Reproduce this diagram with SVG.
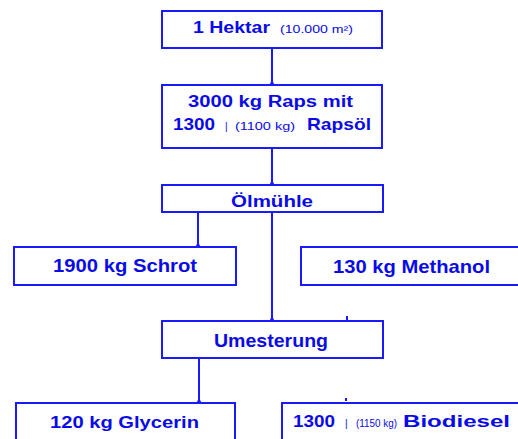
<svg xmlns="http://www.w3.org/2000/svg" width="518" height="439" viewBox="0 0 518 439">
<style>
.box{fill:#fff;stroke:#1a1aff;stroke-width:2}
.ln{stroke:#1a1aff;stroke-width:2;fill:none}
.t{font-family:"Liberation Sans",Arial,sans-serif;font-weight:bold;fill:#0a0ae8}
.s{font-family:"Liberation Sans",Arial,sans-serif;font-weight:normal;fill:#0a0ae8;font-size:10px}
</style>
<defs>
<marker id="dot" viewBox="0 0 4 4" refX="2" refY="2" markerWidth="4" markerHeight="4" markerUnits="userSpaceOnUse">
<circle cx="2" cy="2" r="2" fill="#1a1aff"/>
</marker>
</defs>
<rect width="518" height="439" fill="#fff"/>
<g id="connectors">
<line class="ln" x1="272" y1="48" x2="272" y2="84" marker-end="url(#dot)"/>
<line class="ln" x1="272" y1="148" x2="272" y2="184" marker-end="url(#dot)"/>
<line class="ln" x1="198" y1="212" x2="198" y2="246" marker-end="url(#dot)"/>
<line class="ln" x1="272" y1="212" x2="272" y2="320" marker-end="url(#dot)"/>
<line class="ln" x1="199" y1="358" x2="199" y2="402" marker-end="url(#dot)"/>
<line class="ln" x1="347" y1="316" x2="347" y2="320"/>
<line class="ln" x1="346" y1="398" x2="346" y2="401"/>
</g>
<g id="hektar">
<rect class="box" x="162" y="11" width="220" height="37"/>
<text class="t" x="193" y="33" font-size="16" textLength="77" lengthAdjust="spacingAndGlyphs">1 Hektar</text>
<text class="s" x="280" y="33" textLength="73" lengthAdjust="spacingAndGlyphs">(10.000 m²)</text>
</g>
<g id="raps">
<rect class="box" x="162" y="85" width="220" height="63"/>
<text class="t" x="188" y="107" font-size="16" textLength="165" lengthAdjust="spacingAndGlyphs">3000 kg Raps mit</text>
<text class="t" x="173" y="130" font-size="17" textLength="42" lengthAdjust="spacingAndGlyphs">1300</text>
<text class="s" x="225" y="130" font-size="13">|</text>
<text class="s" x="235" y="130" textLength="60" lengthAdjust="spacingAndGlyphs">(1100 kg)</text>
<text class="t" x="307" y="130" font-size="17" textLength="64" lengthAdjust="spacingAndGlyphs">Rapsöl</text>
</g>
<g id="oelmuehle">
<rect class="box" x="162" y="185" width="221" height="27"/>
<text class="t" x="231" y="207" font-size="17" textLength="82" lengthAdjust="spacingAndGlyphs">Ölmühle</text>
</g>
<g id="schrot">
<rect class="box" x="14" y="247" width="222" height="38"/>
<text class="t" x="53" y="272" font-size="19" textLength="144" lengthAdjust="spacingAndGlyphs">1900 kg Schrot</text>
</g>
<g id="methanol">
<rect class="box" x="301" y="247" width="222" height="38"/>
<text class="t" x="333" y="273" font-size="19" textLength="157" lengthAdjust="spacingAndGlyphs">130 kg Methanol</text>
</g>
<g id="umesterung">
<rect class="box" x="162" y="321" width="221" height="37"/>
<text class="t" x="214" y="347" font-size="19" textLength="114" lengthAdjust="spacingAndGlyphs">Umesterung</text>
</g>
<g id="glycerin">
<rect class="box" x="16" y="403" width="219" height="45"/>
<text class="t" x="50" y="428" font-size="17" textLength="149" lengthAdjust="spacingAndGlyphs">120 kg Glycerin</text>
</g>
<g id="biodiesel">
<rect class="box" x="282" y="403" width="240" height="45"/>
<text class="t" x="293" y="427" font-size="17" textLength="42" lengthAdjust="spacingAndGlyphs">1300</text>
<text class="s" x="345" y="427" font-size="13">|</text>
<text class="s" x="356" y="427" textLength="41" lengthAdjust="spacingAndGlyphs">(1150 kg)</text>
<text class="t" x="403" y="427" font-size="17" textLength="107" lengthAdjust="spacingAndGlyphs">Biodiesel</text>
</g>
</svg>
